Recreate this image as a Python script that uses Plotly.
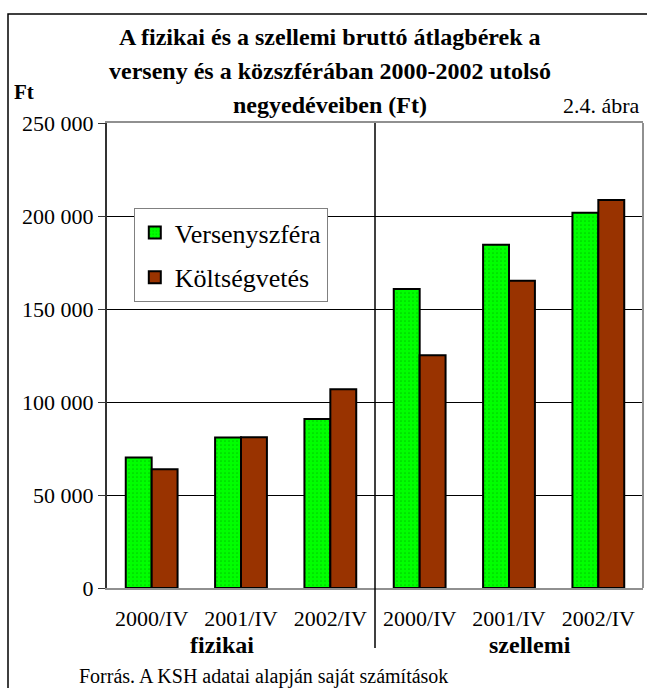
import plotly.graph_objects as go

# periods, grouped as fizikai (first 3) and szellemi (last 3)
categories = ['2000/IV', '2001/IV', '2002/IV', '2000/IV', '2001/IV', '2002/IV']
groups = ['fizikai', 'szellemi']
versenyszfera = [70100, 80900, 90800, 160700, 184600, 201700]
koltsegvetes = [63800, 81000, 106800, 125100, 165200, 208600]
y_ticks = [0, 50000, 100000, 150000, 200000, 250000]

title_lines = ['A fizikai és a szellemi bruttó átlagbérek a',
               'verseny és a közszférában 2000-2002 utolsó',
               'negyedéveiben (Ft)']

serif = 'Liberation Serif'
x_pos = list(range(len(categories)))

fig = go.Figure()
fig.add_bar(x=x_pos, y=versenyszfera, name='Versenyszféra',
            marker=dict(color='#00ff00', line=dict(color='black', width=2),
                        pattern=dict(shape='.', fgcolor='#009900', bgcolor='#00ff00',
                                     size=4, solidity=0.15)),
            legendgroup='a')
fig.add_bar(x=x_pos, y=koltsegvetes, name='Költségvetés',
            marker=dict(color='#993300', line=dict(color='black', width=2)),
            legendgroup='b')

# outer frame, right border of the plot and the fizikai / szellemi separator
fig.add_shape(type='rect', xref='paper', yref='paper', x0=-0.1847, x1=1.2, y0=-0.4, y1=1.2344,
              line=dict(color='black', width=1.5), layer='below')
fig.add_shape(type='line', xref='x', yref='paper', x0=2.5, x1=2.5, y0=-0.129, y1=1,
              line=dict(color='black', width=1.5))
fig.add_shape(type='line', xref='paper', yref='paper', x0=1, x1=1, y0=0, y1=1,
              line=dict(color='#909090', width=2))


def txt(text, x, y, size, xref='paper', xanchor='center'):
    fig.add_annotation(text=text, x=x, y=y, xref=xref, yref='paper', xanchor=xanchor,
                       yanchor='middle', showarrow=False,
                       font=dict(size=size, family=serif, color='black'))


for line, yy in zip(title_lines, [1.185, 1.112, 1.0387]):
    txt('<b>' + line + '</b>', 0.416, yy, 24)

txt('<b>Ft</b>', -0.177, 1.067, 21, xanchor='left')
txt('2.4. ábra', 0.998, 1.0387, 22, xanchor='right')
txt('<b>' + groups[0] + '</b>', 0.787, -0.1226, 24, xref='x')
txt('<b>' + groups[1] + '</b>', 4.235, -0.1226, 24, xref='x')
txt('Forrás. A KSH adatai alapján saját számítások', -0.056, -0.191, 20, xanchor='left')

fig.update_layout(
    width=647, height=688,
    margin=dict(l=107, r=4, t=123, b=100),
    paper_bgcolor='white', plot_bgcolor='white',
    font=dict(family=serif, size=22, color='black'),
    barmode='group', bargap=0.42, bargroupgap=0,
    showlegend=True,
    legend=dict(x=0.05, y=0.817, xanchor='left', yanchor='top',
                bgcolor='white', bordercolor='#808080', borderwidth=1,
                font=dict(size=26, family=serif, color='black'), tracegroupgap=8),
)
fig.update_xaxes(range=[-0.5, 5.5], tickvals=x_pos, ticktext=categories,
                 showgrid=False, zeroline=False, ticks='',
                 showline=True, linecolor='#909090', linewidth=2, mirror=True,
                 ticklabelstandoff=10, tickfont=dict(size=22, family=serif, color='black'))
fig.update_yaxes(range=[0, 250000], tickvals=y_ticks,
                 ticktext=[f'{v:,}'.replace(',', ' ') for v in y_ticks],
                 showgrid=True, gridcolor='black', gridwidth=1, zeroline=False,
                 showline=True, linecolor='#333333', linewidth=2,
                 ticks='outside', ticklen=7, tickcolor='#333333',
                 tickfont=dict(size=22, family=serif, color='black'))

# drop the default page margin so the figure sits at the window's corner
fig.write_html('out.html', config={'displayModeBar': False},
               post_script="document.body.style.margin='0';")
